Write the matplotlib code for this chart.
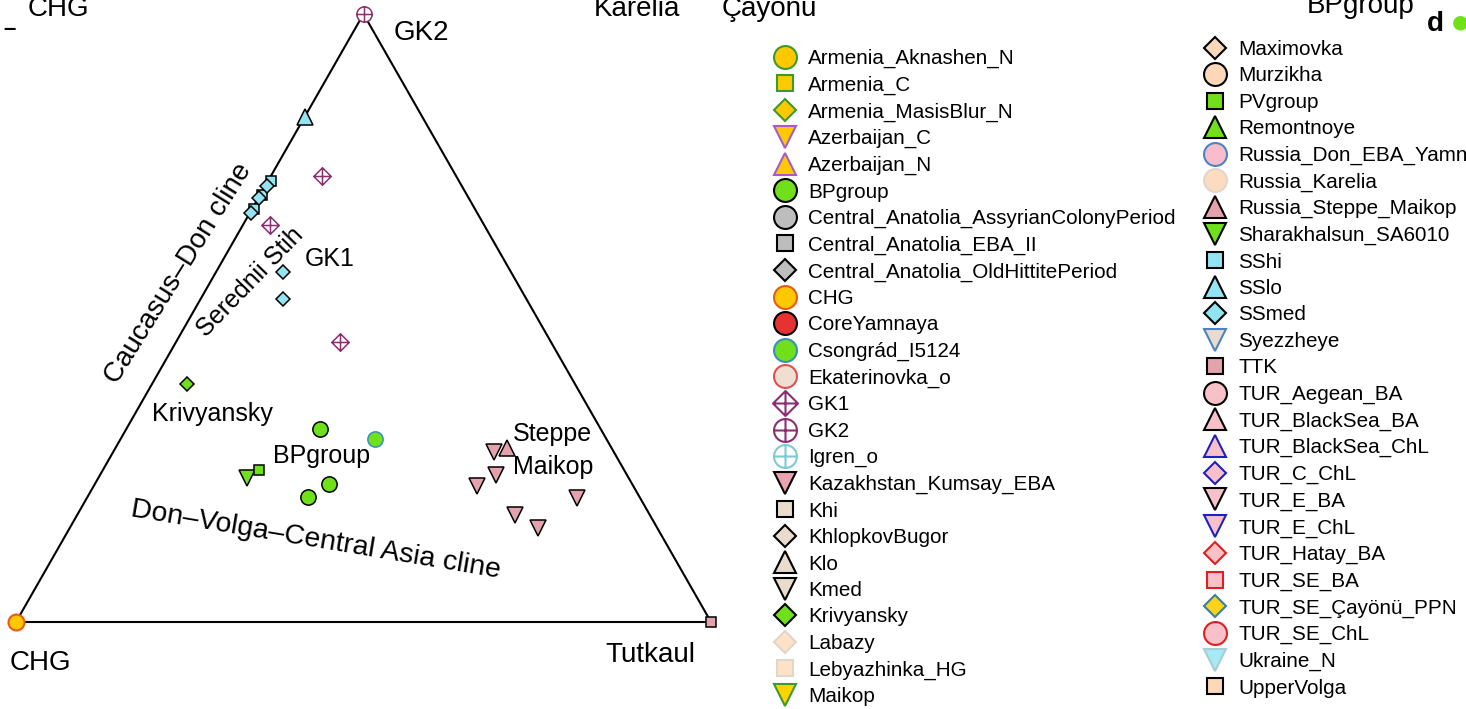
import numpy as np
import matplotlib
matplotlib.use("Agg")
import matplotlib.pyplot as plt
from matplotlib.lines import Line2D
from matplotlib.path import Path

plt.rcParams["font.family"] = ["Liberation Sans", "DejaVu Sans"]

W, H = 1466, 709

# ternary data: fraction of GK2 (top) and Tutkaul (right); CHG is the rest
chg_g, chg_t = [0.0], [0.0]
gk2_g, gk2_t = [1.0], [0.0]
ttk_g, ttk_t = [0.0], [1.0]
sslo_g, sslo_t = [0.831], [0.0]
sshi_g, sshi_t = [0.725, 0.703, 0.680], [0.004, 0.003, 0.003]
ssmed_g = [0.717, 0.697, 0.673, 0.576, 0.531]
ssmed_t = [0.003, 0.001, 0.002, 0.096, 0.118]
gk1_g, gk1_t = [0.734, 0.653, 0.461], [0.073, 0.039, 0.236]
kriv_g, kriv_t = [0.391], [0.050]
bp_g, bp_t = [0.317, 0.227, 0.206], [0.279, 0.337, 0.317]
cson_g, cson_t = [0.301], [0.366]
shar_g, shar_t = [0.237], [0.214]
pv_g, pv_t = [0.250], [0.225]
rsm_g, rsm_t = [0.286], [0.563]
kaz_g = [0.280, 0.242, 0.224, 0.204, 0.176, 0.155]
kaz_t = [0.548, 0.570, 0.551, 0.705, 0.630, 0.674]

# legend groups
col1_labels = ["Armenia_Aknashen_N", "Armenia_C", "Armenia_MasisBlur_N", "Azerbaijan_C",
               "Azerbaijan_N", "BPgroup", "Central_Anatolia_AssyrianColonyPeriod",
               "Central_Anatolia_EBA_II", "Central_Anatolia_OldHittitePeriod", "CHG",
               "CoreYamnaya", "Csongrád_I5124", "Ekaterinovka_o", "GK1", "GK2", "Igren_o",
               "Kazakhstan_Kumsay_EBA", "Khi", "KhlopkovBugor", "Klo", "Kmed", "Krivyansky",
               "Labazy", "Lebyazhinka_HG", "Maikop"]
col1_markers = ["o", "s", "D", "v", "^", "o", "o", "s", "D", "o", "o", "o", "o",
                "dp", "cp", "cp", "v", "s", "D", "^", "v", "D", "D", "s", "v"]
col1_face = ["#ffc800", "#ffc800", "#ffc800", "#ffc800", "#ffc800", "#6fe01a", "#bdbdbd",
             "#bdbdbd", "#bdbdbd", "#ffc800", "#e83232", "#6fe01a", "#eedfd0", "white",
             "white", "white", "#e8a2b0", "#eadccc", "#eadccc", "#eadccc", "#eadccc",
             "#6fe01a", "#fde2c8", "#fde2c8", "#ffd200"]
col1_edge = ["#3d9a2a", "#3d9a2a", "#3d9a2a", "#a65cc8", "#a65cc8", "black", "black",
             "black", "black", "#e85a1a", "black", "#3a8ec0", "#e05050", "#8b2f72",
             "#8b2f72", "#7ccad4", "black", "black", "black", "black", "black", "black",
             "#e2d6c8", "#e2d6c8", "#3d9a2a"]

col2_labels = ["Maximovka", "Murzikha", "PVgroup", "Remontnoye", "Russia_Don_EBA_Yamnaya",
               "Russia_Karelia", "Russia_Steppe_Maikop", "Sharakhalsun_SA6010", "SShi",
               "SSlo", "SSmed", "Syezzheye", "TTK", "TUR_Aegean_BA", "TUR_BlackSea_BA",
               "TUR_BlackSea_ChL", "TUR_C_ChL", "TUR_E_BA", "TUR_E_ChL", "TUR_Hatay_BA",
               "TUR_SE_BA", "TUR_SE_Çayönü_PPN", "TUR_SE_ChL", "Ukraine_N", "UpperVolga"]
col2_markers = ["D", "o", "s", "^", "o", "o", "^", "v", "s", "^", "D", "v", "s", "o", "^",
                "^", "D", "v", "v", "D", "s", "D", "o", "v", "s"]
col2_face = ["#fcd8b8", "#fcd8b8", "#6fe01a", "#6fe01a", "#f8bccb", "#fcdcc0", "#e4a2ad",
             "#6fe01a", "#92e4f2", "#92e4f2", "#92e4f2", "#eadccc", "#e4a2ad", "#f8c0c8",
             "#f8c0c8", "#f8c0c8", "#f8c0c8", "#f8c0c8", "#f8c0c8", "#f8c0c8", "#f8c0c8",
             "#ffd21a", "#f8c0c8", "#a6eaf4", "#fcd8b8"]
col2_edge = ["black", "black", "black", "black", "#4a84c4", "#e2d6c8", "black", "black",
             "black", "black", "black", "#4a84c4", "black", "black", "black", "#2020c0",
             "#2020c0", "black", "#2020c0", "#e02020", "#e02020", "#3a80a0", "#e02020",
             "#a6ccd6", "black"]

# custom markers: circle / diamond with a cross inside
cross = Path([[-1, 0], [1, 0], [0, -1], [0, 1]],
             [Path.MOVETO, Path.LINETO, Path.MOVETO, Path.LINETO])
circ_plus = Path.make_compound_path(Path.unit_circle(), cross)
diamond = Path([[0, -1], [1, 0], [0, 1], [-1, 0], [0, -1]],
               [Path.MOVETO, Path.LINETO, Path.LINETO, Path.LINETO, Path.CLOSEPOLY])
diam_plus = Path.make_compound_path(diamond, cross)

MK = {"cp": circ_plus, "dp": diam_plus}
LEG_MS = {"o": 16.5, "s": 12, "D": 11.5, "v": 16, "^": 16, "cp": 16.5, "dp": 18}


def px(x, y):
    return x / W, 1 - y / H


def to_xy(g, t):
    g = np.asarray(g)
    t = np.asarray(t)
    return t + g / 2, g * np.sqrt(3) / 2


fig = plt.figure(figsize=(W / 100, H / 100), dpi=100)
ax = fig.add_axes([0, 0, 740 / W, 1])
ax.axis("off")
hh = np.sqrt(3) / 2
ax.set_xlim(-16 / 695, (740 - 16) / 695)
ax.set_ylim(-87 * hh / 608, 622 * hh / 608)

# triangle
tri_x, tri_y = to_xy([0, 1, 0, 0], [0, 0, 1, 0])
ax.plot(tri_x, tri_y, color="black", lw=1.5, zorder=1)


def pts(g, t, marker, face, edge, ms, mew=1.1):
    x, y = to_xy(g, t)
    ax.plot(x, y, ls="none", marker=MK.get(marker, marker), ms=ms, mfc=face,
            mec=edge, mew=mew, clip_on=False, zorder=3)


pts(sshi_g, sshi_t, "s", "#92e4f2", "black", 7.5)
pts(ssmed_g, ssmed_t, "D", "#92e4f2", "black", 7.5)
pts(sslo_g, sslo_t, "^", "#92e4f2", "black", 12)
pts(gk1_g, gk1_t, "dp", "white", "#8b2f72", 12.5)
pts(gk2_g, gk2_t, "cp", "white", "#8b2f72", 11)
pts(kriv_g, kriv_t, "D", "#6fe01a", "black", 7.5)
pts(bp_g, bp_t, "o", "#6fe01a", "black", 11)
pts(cson_g, cson_t, "o", "#6fe01a", "#3a8ec0", 11)
pts(shar_g, shar_t, "v", "#6fe01a", "black", 12)
pts(pv_g, pv_t, "s", "#6fe01a", "black", 7.5)
pts(kaz_g, kaz_t, "v", "#e4a2ad", "black", 12)
pts(rsm_g, rsm_t, "^", "#e4a2ad", "black", 12)
pts(chg_g, chg_t, "o", "#ffc800", "#e85a1a", 11.5, 1.5)
pts(ttk_g, ttk_t, "s", "#e4a2ad", "black", 7.5)

# labels inside the panel
fig.text(*px(394, 33), "GK2", fontsize=20, va="center")
fig.text(*px(10, 663), "CHG", fontsize=20, va="center")
fig.text(*px(605, 655), "Tutkaul", fontsize=20, va="center")
fig.text(*px(178, 273), "Caucasus–Don cline", fontsize=20, rotation=58,
         ha="center", va="center", rotation_mode="anchor")
fig.text(*px(250, 282), "Serednii Stih", fontsize=18, rotation=46,
         ha="center", va="center", rotation_mode="anchor")
fig.text(*px(305, 259), "GK1", fontsize=18, va="center")
fig.text(*px(152, 414), "Krivyansky", fontsize=18, va="center")
fig.text(*px(273, 456), "BPgroup", fontsize=18, va="center")
fig.text(*px(316, 540), "Don–Volga–Central Asia cline", fontsize=20.4, rotation=-9.5,
         ha="center", va="center", rotation_mode="anchor")
fig.text(*px(513, 434), "Steppe", fontsize=18, va="center")
fig.text(*px(513, 467), "Maikop", fontsize=18, va="center")

# remnants of the panel above (cut by the top edge)
fig.text(*px(28, 16), "CHG", fontsize=20, va="baseline")
fig.text(*px(594, 16), "Karelia", fontsize=20, va="baseline")
fig.text(*px(722, 16), "Çayonu", fontsize=20, va="baseline")
fig.text(*px(1307, 13), "BPgroup", fontsize=20, va="baseline")
fig.text(*px(3, 30), "–", fontsize=16, va="center", fontweight="bold")
fig.text(*px(1427, 31), "d", fontsize=20, va="baseline", fontweight="bold")
fig.text(*px(1452, 22), "●", fontsize=14, va="center", color="#6fe01a",
         family="DejaVu Sans")


def handles(markers, faces, edges):
    out = []
    for m, f, e in zip(markers, faces, edges):
        out.append(Line2D([], [], ls="none", marker=MK.get(m, m), ms=LEG_MS[m],
                          mfc=f, mec=e, mew=1.5))
    return out


leg_kw = dict(loc="upper left", frameon=False, fontsize=14.9, borderpad=0,
              borderaxespad=0, handlelength=1.15, handletextpad=0.55, labelspacing=0.36,
              bbox_transform=fig.transFigure)
fig.legend(handles(col1_markers, col1_face, col1_edge), col1_labels,
           bbox_to_anchor=px(773, 49), **leg_kw)
fig.legend(handles(col2_markers, col2_face, col2_edge), col2_labels,
           bbox_to_anchor=px(1203, 40), **leg_kw)

fig.savefig("out.png", dpi=100)
